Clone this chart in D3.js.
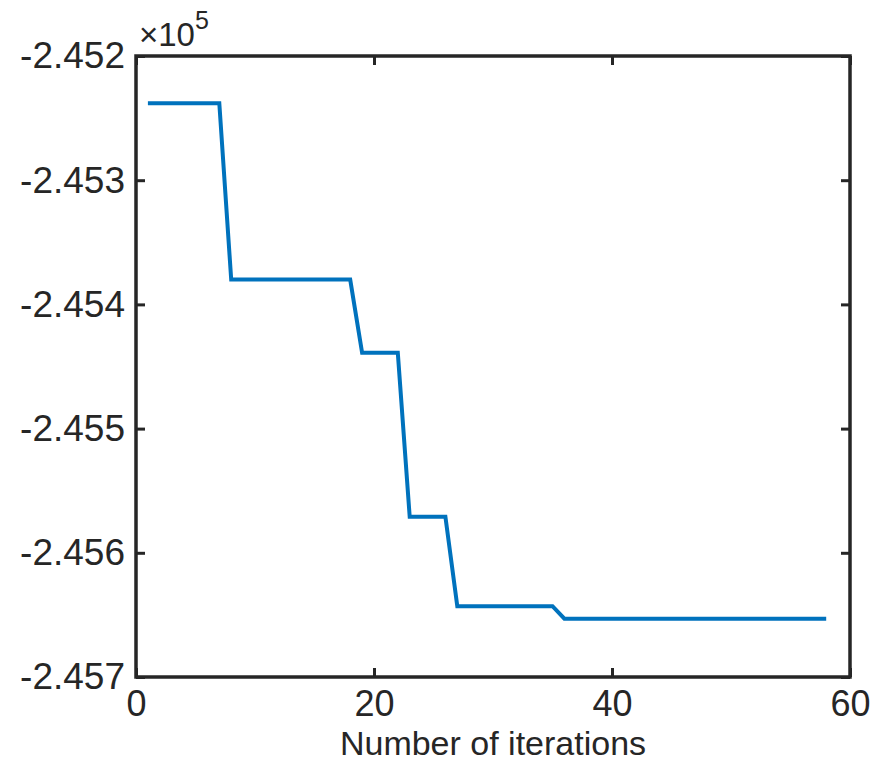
<!DOCTYPE html>
<html>
<head>
<meta charset="utf-8">
<script src="https://cdn.jsdelivr.net/npm/d3@7"></script>
<style>
  body { margin: 0; background: #fff; }
  text { font-family: "Liberation Sans", Arial, sans-serif; fill: #262626; }
</style>
</head>
<body>
<div id="chart"></div>
<script>
// objective value per iteration (in units of 1e5)
var values = [
  -2.45238, -2.45238, -2.45238, -2.45238, -2.45238, -2.45238, -2.45238,
  -2.45380, -2.45380, -2.45380, -2.45380, -2.45380, -2.45380, -2.45380, -2.45380, -2.45380, -2.45380, -2.45380,
  -2.45439, -2.45439, -2.45439, -2.45439,
  -2.45571, -2.45571, -2.45571, -2.45571,
  -2.45643, -2.45643, -2.45643, -2.45643, -2.45643, -2.45643, -2.45643, -2.45643, -2.45643,
  -2.45653, -2.45653, -2.45653, -2.45653, -2.45653, -2.45653, -2.45653, -2.45653, -2.45653, -2.45653,
  -2.45653, -2.45653, -2.45653, -2.45653, -2.45653, -2.45653, -2.45653, -2.45653, -2.45653, -2.45653,
  -2.45653, -2.45653, -2.45653
];
var xTicks = [0, 20, 40, 60];
var yTicks = [-2.452, -2.453, -2.454, -2.455, -2.456, -2.457];
var xLabel = "Number of iterations";

var svgWidth = 874;
var svgHeight = 763;

var margin = { top: 56, right: 24, bottom: 86, left: 136 };
var width = svgWidth - margin.left - margin.right;
var height = svgHeight - margin.top - margin.bottom;

var svg = d3.select("#chart")
  .append("svg")
  .attr("width", svgWidth)
  .attr("height", svgHeight);

var chartGroup = svg.append("g")
  .attr("transform", `translate(${margin.left}, ${margin.top})`);

var xScale = d3.scaleLinear().domain([0, 60]).range([0, width]);
var yScale = d3.scaleLinear().domain([-2.457, -2.452]).range([height, 0]);

// axes (ticks point inward, mirrored on top/right like a boxed plot)
var bottomAxis = d3.axisBottom(xScale).tickValues(xTicks).tickSize(-9).tickPadding(13).tickFormat(d3.format("d"));
var topAxis = d3.axisTop(xScale).tickValues(xTicks).tickSize(-9).tickFormat("");
var leftAxis = d3.axisLeft(yScale).tickValues(yTicks).tickSize(-9).tickPadding(11).tickFormat(d => d.toFixed(3));
var rightAxis = d3.axisRight(yScale).tickValues(yTicks).tickSize(-9).tickFormat("");

function styleAxis(g, size) {
  g.select(".domain").remove();
  g.selectAll(".tick line").attr("stroke", "#262626").attr("stroke-width", 3);
  g.selectAll(".tick text").attr("font-family", null).style("font-size", size + "px").attr("fill", "#262626");
}

chartGroup.append("g").attr("transform", `translate(0, ${height})`).call(bottomAxis).call(styleAxis, 36);
chartGroup.append("g").call(topAxis).call(styleAxis, 36);
chartGroup.append("g").call(leftAxis).call(styleAxis, 37);
chartGroup.append("g").attr("transform", `translate(${width}, 0)`).call(rightAxis).call(styleAxis, 36);

// box
chartGroup.append("rect")
  .attr("width", width)
  .attr("height", height)
  .attr("fill", "none")
  .attr("stroke", "#262626")
  .attr("stroke-width", 3.5);

// line
var line = d3.line()
  .x((d, i) => xScale(i + 1))
  .y(d => yScale(d));

chartGroup.append("path")
  .datum(values)
  .attr("fill", "none")
  .attr("stroke", "#0072BD")
  .attr("stroke-width", 4)
  .attr("d", line);

// exponent label
var expo = svg.append("text")
  .attr("x", 139)
  .attr("y", 46)
  .style("font-size", "33px");
expo.append("tspan").text("\u00d710");
expo.append("tspan").attr("dy", -17).style("font-size", "25px").text("5");

// x axis label
svg.append("text")
  .attr("x", margin.left + width / 2)
  .attr("y", 755)
  .attr("text-anchor", "middle")
  .style("font-size", "34px")
  .text(xLabel);
</script>
</body>
</html>
